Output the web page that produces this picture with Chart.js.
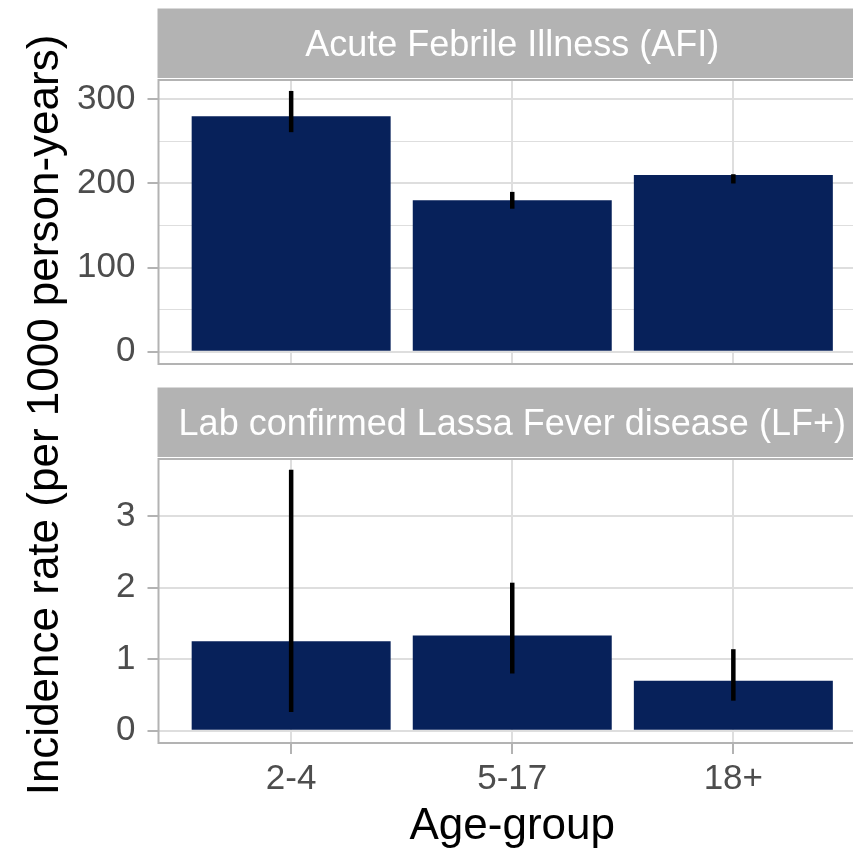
<!DOCTYPE html>
<html>
<head>
<meta charset="utf-8">
<script src="https://cdn.jsdelivr.net/npm/chart.js@4/dist/chart.umd.min.js"></script>
<style>
    body { margin: 0; background: #fff; }
    #wrap { position: relative; width: 853px; height: 849px; overflow: hidden; }
    #wrap canvas { position: absolute; left: 0; }
    #afiChart { top: 0; }
    #lfChart { top: 380px; }
    #yTitle {
        position: absolute; left: -360px; top: 393px; width: 800px; height: 44px;
        line-height: 44px; text-align: center; font: 44px "Liberation Sans", Arial, sans-serif;
        color: #000; transform: rotate(-90deg); white-space: nowrap;
    }
</style>
</head>
<body>
<div id="wrap">
    <canvas id="afiChart" width="870" height="400"></canvas>
    <canvas id="lfChart" width="870" height="469"></canvas>
    <div id="yTitle">Incidence rate (per 1000 person-years)</div>
</div>
<script>
const ageGroups = ["2-4", "5-17", "18+"];

// Acute Febrile Illness (AFI)
const afiRate = [280, 180, 210];
const afiLower = [261, 170, 200];
const afiUpper = [310, 190, 211];
const afiTicks = [0, 50, 100, 150, 200, 250, 300];

// Lab confirmed Lassa Fever disease (LF+)
const lfRate = [1.25, 1.33, 0.70];
const lfLower = [0.26, 0.80, 0.42];
const lfUpper = [3.65, 2.07, 1.14];
const lfTicks = [0, 0.5, 1, 1.5, 2, 2.5, 3, 3.5];

const BAR_COLOR = "#07215a";
const GRID = "#dedede";
const GREY70 = "#b3b3b3";

Chart.defaults.font.family = '"Liberation Sans", Arial, sans-serif';

/**
 * Error bars, panel border and facet strip.
 */
const panelDecor = {
    id: "panelDecor",
    afterDatasetsDraw(chart, args, opts) {
        const { ctx, chartArea, scales } = chart;
        ctx.save();
        ctx.strokeStyle = "#000";
        ctx.lineWidth = 4.5;
        for (let i = 0; i < opts.lower.length; i++) {
            const x = scales.x.getPixelForValue(i + 1);
            ctx.beginPath();
            ctx.moveTo(x, scales.y.getPixelForValue(opts.lower[i]));
            ctx.lineTo(x, scales.y.getPixelForValue(opts.upper[i]));
            ctx.stroke();
        }

        ctx.strokeStyle = GREY70;
        ctx.lineWidth = 2;
        ctx.strokeRect(chartArea.left, chartArea.top, chartArea.width, chartArea.height);

        const stripTop = chartArea.top - 71.5;
        const stripH = 69.5;
        ctx.fillStyle = GREY70;
        ctx.fillRect(chartArea.left - 1, stripTop, chartArea.width + 2, stripH);
        ctx.fillStyle = "#fff";
        ctx.font = '36px "Liberation Sans", Arial, sans-serif';
        ctx.textAlign = "center";
        ctx.textBaseline = "alphabetic";
        ctx.fillText(opts.label, (chartArea.left + chartArea.right) / 2, stripTop + stripH / 2 + 12.8);
        ctx.restore();
    }
};

/**
 * Build one facet panel.
 */
function initPanel(id, cfg) {
    const isMajor = v => Math.abs(v / cfg.step - Math.round(v / cfg.step)) < 1e-9;
    return new Chart(document.getElementById(id), {
        type: "bar",
        data: {
            datasets: [{
                data: cfg.rate.map((v, i) => ({ x: i + 1, y: v })),
                backgroundColor: BAR_COLOR,
                borderWidth: 0,
                barPercentage: 0.9,
                categoryPercentage: 1.0
            }]
        },
        options: {
            responsive: false,
            animation: false,
            layout: { padding: { top: cfg.padTop, right: 4, left: 0, bottom: 0 } },
            plugins: {
                legend: { display: false },
                tooltip: { enabled: false },
                panelDecor: { label: cfg.label, lower: cfg.lower, upper: cfg.upper }
            },
            scales: {
                x: {
                    type: "linear",
                    min: 0.4,
                    max: 3.6,
                    offset: false,
                    afterBuildTicks: s => { s.ticks = ageGroups.map((g, i) => ({ value: i + 1 })); },
                    afterFit: s => { s.height = cfg.axisH; },
                    ticks: {
                        display: cfg.bottom,
                        autoSkip: false,
                        maxRotation: 0,
                        padding: 4,
                        color: "#4d4d4d",
                        font: { size: 35 },
                        callback: v => ageGroups[Math.round(v) - 1]
                    },
                    grid: {
                        offset: false,
                        color: GRID,
                        lineWidth: 2,
                        drawTicks: cfg.bottom,
                        tickLength: 11,
                        tickColor: GREY70,
                        tickWidth: 2
                    },
                    border: { display: false },
                    title: {
                        display: cfg.bottom,
                        text: "Age-group",
                        color: "#000",
                        font: { size: 44, lineHeight: 1.0 },
                        padding: 0
                    }
                },
                y: {
                    min: cfg.min,
                    max: cfg.max,
                    afterBuildTicks: s => { s.ticks = cfg.ticks.map(v => ({ value: v })); },
                    afterFit: s => { s.width = 158.5; },
                    ticks: {
                        padding: 12,
                        color: "#4d4d4d",
                        font: { size: 35 },
                        callback: v => isMajor(v) ? String(v) : ""
                    },
                    grid: {
                        color: GRID,
                        lineWidth: c => isMajor(c.tick.value) ? 2 : 1,
                        tickLength: 11,
                        tickWidth: 2,
                        tickColor: c => isMajor(c.tick.value) ? GREY70 : "rgba(0,0,0,0)"
                    },
                    border: { display: false }
                }
            }
        },
        plugins: [panelDecor]
    });
}

initPanel("afiChart", {
    label: "Acute Febrile Illness (AFI)",
    rate: afiRate, lower: afiLower, upper: afiUpper,
    ticks: afiTicks, step: 100, min: -14.6, max: 323,
    padTop: 80, axisH: 36, bottom: false
});

initPanel("lfChart", {
    label: "Lab confirmed Lassa Fever disease (LF+)",
    rate: lfRate, lower: lfLower, upper: lfUpper,
    ticks: lfTicks, step: 1, min: -0.172, max: 3.8,
    padTop: 79, axisH: 106, bottom: true
});
</script>
</body>
</html>
